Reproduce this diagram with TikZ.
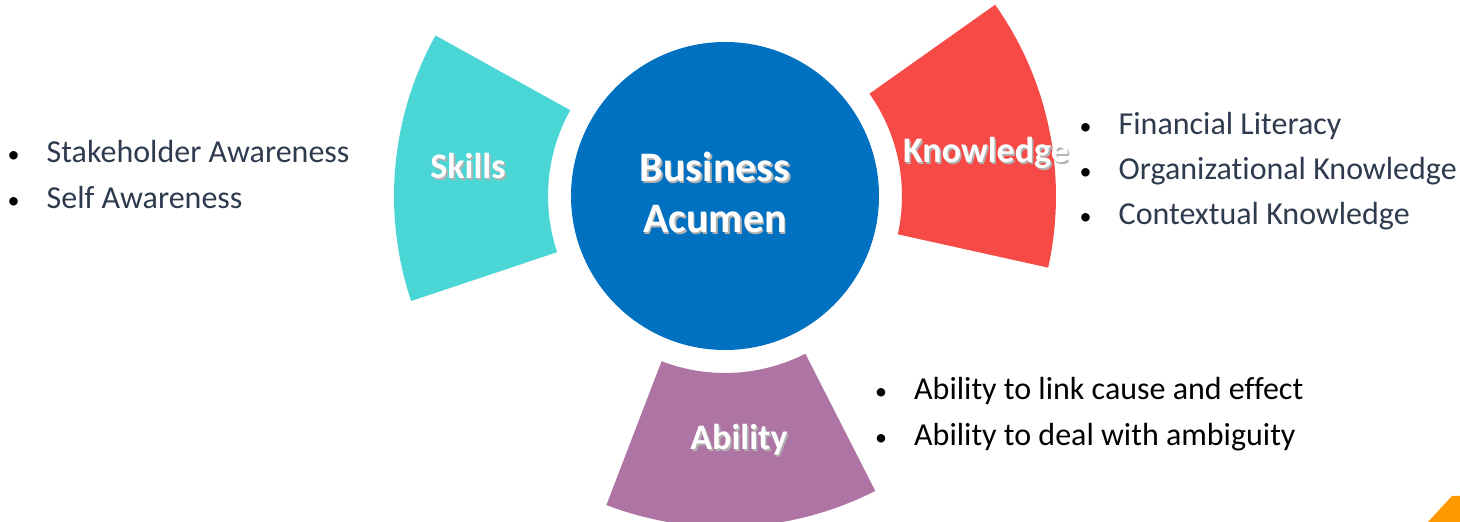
\documentclass[tikz,border=0pt]{standalone}
\usepackage{fontspec}
\setmainfont{Carlito}[Ligatures=NoCommon]

\definecolor{skillcol}{HTML}{4BD6D6}
\definecolor{knowcol}{HTML}{F64A46}
\definecolor{abilcol}{HTML}{AE74A4}
\definecolor{acucol}{HTML}{0070C0}
\definecolor{itemcol}{HTML}{2E3B4E}
\definecolor{cornercol}{HTML}{FF9900}

% маркер списка
\newcommand{\bul}{\makebox[0pt]{\textcolor{black}{\scalebox{0.75}{•}}}\hspace{33pt}}
% белый текст с тенью
\newcommand{\shtext}[1]{\makebox[0pt][l]{\kern1.6pt\raisebox{-1.6pt}{\textcolor{black!30}{#1}}}#1}

\begin{document}
\begin{tikzpicture}[
        x=1pt, y=1pt,
        hub/.style={circle, fill=acucol, minimum size=308pt, inner sep=0pt}, % центральный круг
        lbl/.style={anchor=base, text=white, inner sep=0pt, font=\fontsize{36}{43}\selectfont\bfseries},
        item/.style={anchor=base west, inner sep=0pt, text=itemcol, font=\fontsize{32}{46}\selectfont},
    ]
    \useasboundingbox (0,0) rectangle (1460,522);

    \coordinate (c) at (725,326);

    % сектора вокруг круга
    \foreach \a/\b/\col in {151/198.5/skillcol, -12.5/35.3/knowcol, 249/297/abilcol}
        \fill[\col] ([shift={(c)}]\a:177) arc[start angle=\a, end angle=\b, radius=177]
            -- ([shift={(c)}]\b:331) arc[start angle=\b, end angle=\a, radius=331] -- cycle;

    \node[hub] (acumen) at (c) {};
    \node[lbl, align=center, font=\fontsize{42}{51}\selectfont\bfseries] (acutext) at (715,289) {\shtext{Business}\\\shtext{Acumen}};

    \node[lbl] (skills) at (468,343) {\shtext{Skills}};
    \node[lbl] (know) at (986,359) {\shtext{Knowledge}};
    \node[lbl] (abil) at (739,72) {\shtext{Ability}};

    % списки
    \foreach \t [count=\i] in {Stakeholder Awareness, Self Awareness}
        \node[item] (skl\i) at (13.5,405-46*\i) {\bul\t};
    \foreach \t [count=\i] in {Financial Literacy, Organizational Knowledge, Contextual Knowledge}
        \node[item] (knw\i) at (1085.5,432-45*\i) {\bul\t};
    \foreach \t [count=\i] in {Ability to link cause and effect, Ability to deal with ambiguity}
        \node[item, text=black] (abl\i) at (881,168-46*\i) {\bul\t};

    \fill[cornercol] (1428,0) -- (1452,26) -- (1460,26) -- (1460,0) -- cycle;
\end{tikzpicture}
\end{document}
